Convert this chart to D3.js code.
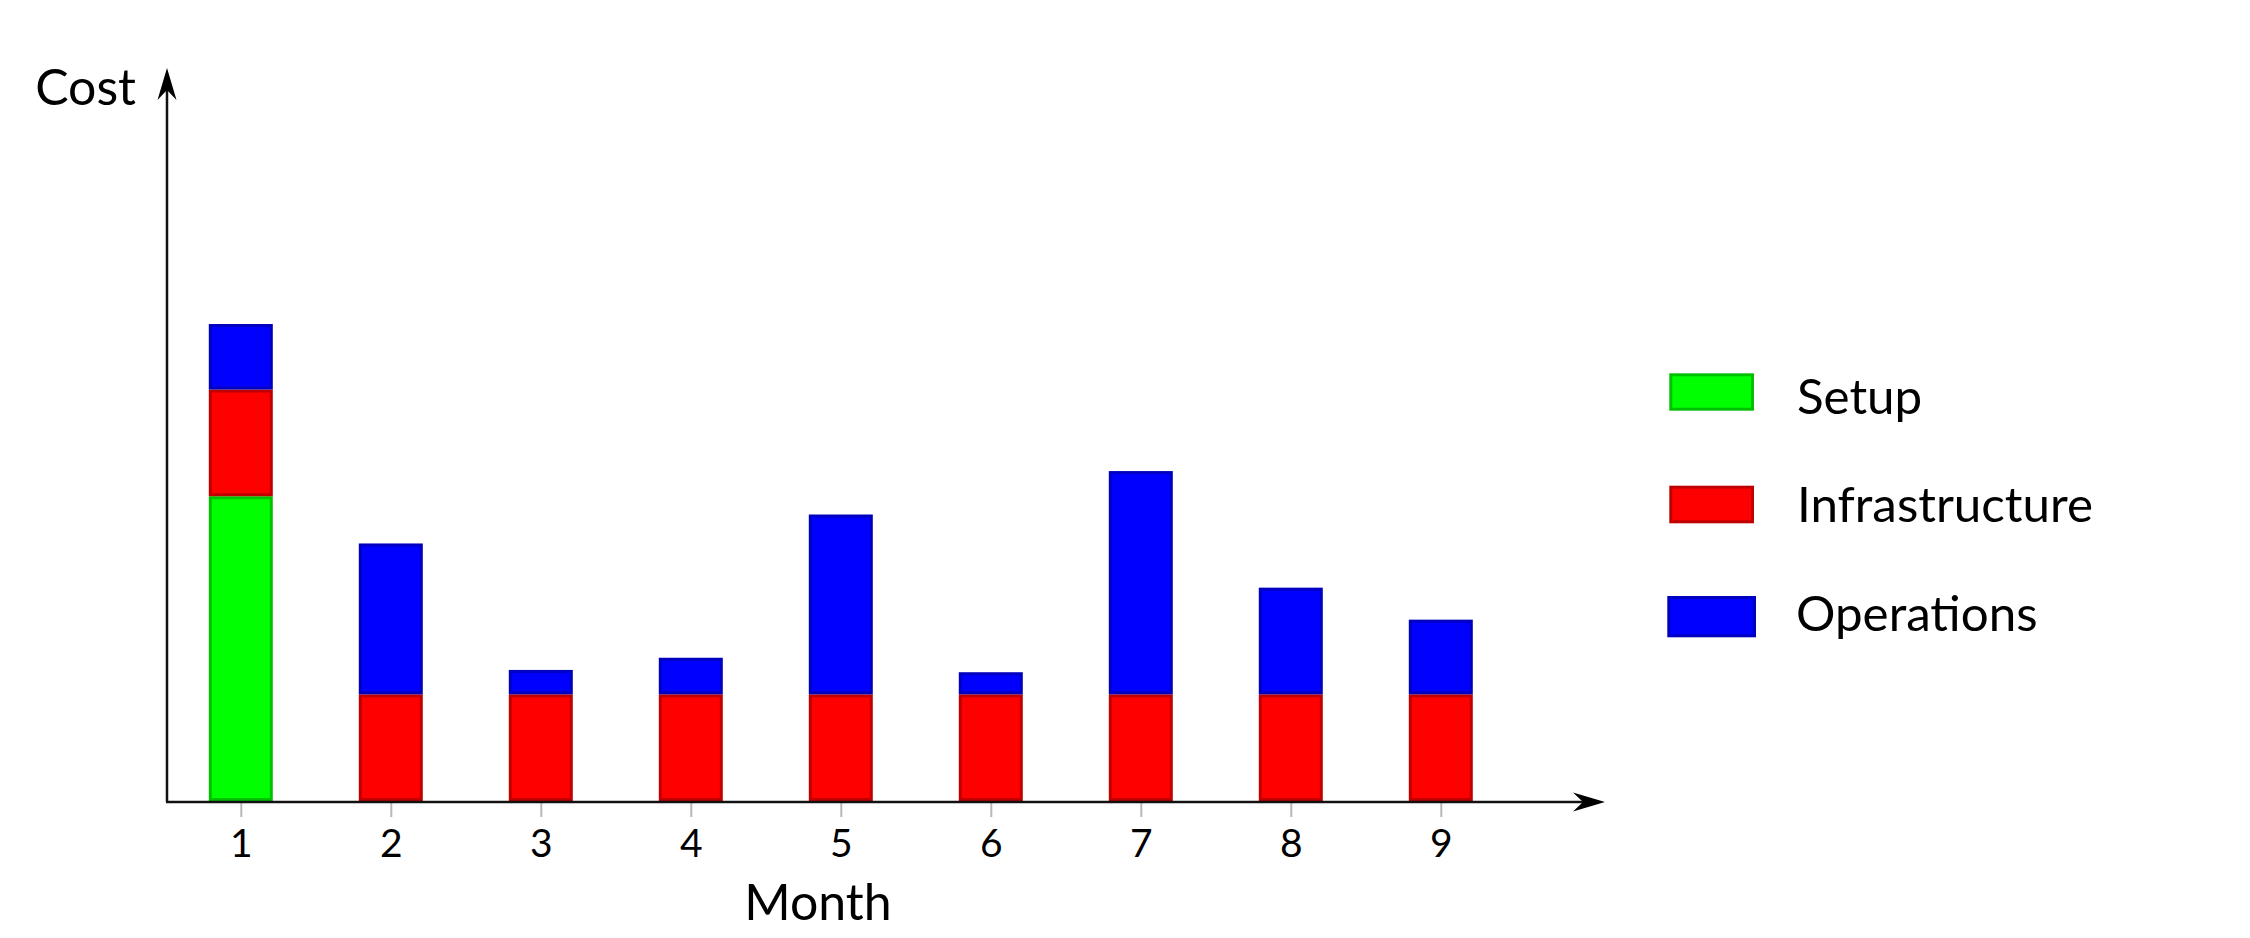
<!DOCTYPE html>
<html>
<head>
<meta charset="utf-8">
<script src="https://cdn.jsdelivr.net/npm/d3@7"></script>
<style>
  html, body { margin: 0; padding: 0; background: #fff; }
  svg { display: block; font-family: Lato, "Noto Sans", sans-serif; }
</style>
</head>
<body>
<svg id="chart" width="2250" height="938"></svg>
<script>
// ---- data ----
const months = ["1", "2", "3", "4", "5", "6", "7", "8", "9"];
const setup = [20, 0, 0, 0, 0, 0, 0, 0, 0];
const infrastructure = [7, 7, 7, 7, 7, 7, 7, 7, 7];
const operations = [4.3, 9.9, 1.6, 2.4, 11.8, 1.45, 14.65, 7.0, 4.9];
const seriesNames = ["Setup", "Infrastructure", "Operations"];
const seriesKeys = ["setup", "infrastructure", "operations"];
const xLabel = "Month";
const yLabel = "Cost";

// ---- styles ----
const fills = { setup: "#00ff00", infrastructure: "#ff0000", operations: "#0000ff" };
const strokes = { setup: "#00c000", infrastructure: "#c00000", operations: "#0000c0" };

const rows = months.map((m, i) => ({
  month: m,
  setup: setup[i],
  infrastructure: infrastructure[i],
  operations: operations[i]
}));

const svg = d3.select("#chart");
svg.append("rect").attr("width", 2250).attr("height", 938).attr("fill", "#fff");

const originX = 167, originY = 801;
const axisTopY = 68, axisRightX = 1605;

const x = d3.scalePoint().domain(months).range([240.8, 1440.8]);
const barW = 64;
const y = d3.scaleLinear().domain([0, 48.1]).range([originY, axisTopY]);

const stacked = d3.stack().keys(seriesKeys)(rows);

// bars
const sw = 3;
stacked.forEach(layer => {
  const key = layer.key;
  svg.append("g").selectAll("rect")
    .data(layer.filter(d => d[1] - d[0] > 0))
    .join("rect")
    .attr("x", d => x(d.data.month) - barW / 2 + sw / 2)
    .attr("y", d => y(d[1]) + sw / 2)
    .attr("width", barW - sw)
    .attr("height", d => Math.max(0, y(d[0]) - y(d[1]) - sw))
    .attr("fill", fills[key])
    .attr("stroke", strokes[key])
    .attr("stroke-width", sw);
});

// x ticks via d3 axis
const xAxis = d3.axisBottom(x).tickSize(14).tickSizeOuter(0);
const gx = svg.append("g").attr("transform", `translate(0,${originY + 2})`).call(xAxis);
gx.select(".domain").remove();
gx.selectAll(".tick line").attr("stroke", "#b8b8b8").attr("stroke-width", 2);
gx.selectAll(".tick text")
  .attr("y", 54).attr("dy", 0)
  .attr("fill", "#000")
  .style("font-size", "39px")
  .style("font-family", "Lato, 'Noto Sans', sans-serif");

// axes lines
const arrowLen = 32, arrowHalf = 9.5, notch = 10;
svg.append("line")
  .attr("x1", originX).attr("y1", originY + 1)
  .attr("x2", originX).attr("y2", axisTopY + arrowLen - notch)
  .attr("stroke", "#111").attr("stroke-width", 2.5);
svg.append("line")
  .attr("x1", originX - 1).attr("y1", originY + 1)
  .attr("x2", axisRightX - arrowLen + notch).attr("y2", originY + 1)
  .attr("stroke", "#111").attr("stroke-width", 2.5);

// arrowheads
svg.append("path")
  .attr("d", `M${originX},${axisTopY} L${originX + arrowHalf},${axisTopY + arrowLen} L${originX},${axisTopY + arrowLen - notch} L${originX - arrowHalf},${axisTopY + arrowLen} Z`)
  .attr("fill", "#000");
svg.append("path")
  .attr("d", `M${axisRightX},${originY + 1} L${axisRightX - arrowLen},${originY + 1 - arrowHalf} L${axisRightX - arrowLen + notch},${originY + 1} L${axisRightX - arrowLen},${originY + 1 + arrowHalf} Z`)
  .attr("fill", "#000");

// axis labels
svg.append("text")
  .attr("x", 818).attr("y", 920)
  .attr("text-anchor", "middle")
  .style("font-size", "50px")
  .attr("fill", "#000")
  .text(xLabel);
svg.append("text")
  .attr("x", 136).attr("y", 105)
  .attr("text-anchor", "end")
  .style("font-size", "50px")
  .attr("fill", "#000")
  .text(yLabel);

// legend
const legendRows = [
  { y: 373.3, h: 37.4, x: 1669.3, w: 84.7, tx: 1797, ty: 414 },
  { y: 485.7, h: 37.6, x: 1669.3, w: 84.7, tx: 1797, ty: 522 },
  { y: 596, h: 41.3, x: 1667.3, w: 88.7, tx: 1796, ty: 631 }
];
const lg = svg.append("g");
seriesKeys.forEach((k, i) => {
  const r = legendRows[i];
  lg.append("rect")
    .attr("x", r.x + sw / 2).attr("y", r.y + sw / 2)
    .attr("width", r.w - sw).attr("height", r.h - sw)
    .attr("fill", fills[k]).attr("stroke", strokes[k]).attr("stroke-width", sw);
  lg.append("text")
    .attr("x", r.tx).attr("y", r.ty)
    .style("font-size", "49.3px")
    .attr("fill", "#000")
    .text(seriesNames[i]);
});
</script>
</body>
</html>
